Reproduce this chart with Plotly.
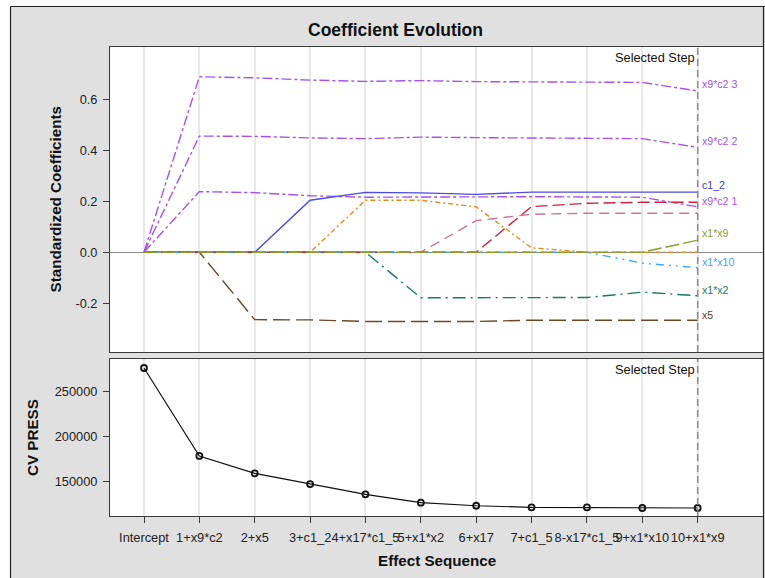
import plotly.graph_objects as go

# ---------------- data ----------------
steps = list(range(11))
step_labels = ["Intercept", "1+x9*c2", "2+x5", "3+c1_2", "4+x17*c1_5", "5+x1*x2",
               "6+x17", "7+c1_5", "8-x17*c1_5", "9+x1*x10", "10+x1*x9"]

coef_x9c2_3 = [0, 0.689, 0.685, 0.676, 0.671, 0.674, 0.670, 0.668, 0.668, 0.667, 0.633]
coef_x9c2_2 = [0, 0.456, 0.455, 0.449, 0.446, 0.452, 0.450, 0.448, 0.448, 0.446, 0.412]
coef_x9c2_1 = [0, 0.238, 0.234, 0.222, 0.216, 0.217, 0.218, 0.218, 0.217, 0.216, 0.178]
coef_x5 = [0, 0, -0.265, -0.266, -0.272, -0.273, -0.272, -0.267, -0.267, -0.267, -0.267]
coef_c1_2 = [0, 0, 0, 0.204, 0.235, 0.233, 0.227, 0.236, 0.236, 0.236, 0.236]
coef_x17c1_5 = [0, 0, 0, 0, 0.204, 0.204, 0.178, 0.017, 0, 0, 0]
coef_x1x2 = [0, 0, 0, 0, 0, -0.179, -0.178, -0.178, -0.178, -0.157, -0.171]
coef_x17 = [0, 0, 0, 0, 0, 0, 0.124, 0.149, 0.153, 0.153, 0.153]
coef_c1_5 = [0, 0, 0, 0, 0, 0, 0, 0.179, 0.192, 0.196, 0.196]
coef_x1x10 = [0, 0, 0, 0, 0, 0, 0, 0, 0, -0.043, -0.061]
coef_x1x9 = [0, 0, 0, 0, 0, 0, 0, 0, 0, 0, 0.047]

cv_press = [276300, 178600, 159300, 147400, 136000, 126700, 123300, 121500, 121500, 120800, 120800]

coef_ticks = [-0.2, 0.0, 0.2, 0.4, 0.6]
coef_ticktext = ["-0.2", "0.0", "0.2", "0.4", "0.6"]
press_ticks = [150000, 200000, 250000]
press_ticktext = ["150000", "200000", "250000"]

selected_step = 10

# curve end labels (text, label y-value)
end_labels = ["x9*c2 3", "x9*c2 2", "c1_2", "x9*c2 1", "x1*x9", "x1*x10", "x1*x2", "x5"]
end_label_y = [0.659, 0.438, 0.264, 0.202, 0.077, -0.037, -0.148, -0.245]

# ---------------- styling ----------------
FONT = "Liberation Sans, Arial, sans-serif"
W, H = 765, 578
L, R, T, B = 110, 2, 47, 62
PW, PH = W - L - R, H - T - B


def pxx(x):
    return (x - L) / PW


def pyy(y):
    return (H - B - y) / PH


PURPLE = "#A652E8"
series = [
    (coef_x9c2_3, PURPLE, "10px,3px,3px,3px"),
    (coef_x9c2_2, PURPLE, "10px,3px,3px,3px"),
    (coef_x9c2_1, PURPLE, "10px,3px,3px,3px"),
    (coef_x5, "#6B4726", "17px,6px"),
    (coef_c1_2, "#4B4BE6", "solid"),
    (coef_x17c1_5, "#E08C1A", "5px,3px,2px,3px"),
    (coef_x1x2, "#18786A", "13px,5px,2px,5px"),
    (coef_x17, "#C87898", "10px,6px"),
    (coef_c1_5, "#CC2244", "12px,5px"),
    (coef_x1x10, "#3FA2F5", "8px,5px,2px,5px,2px,5px"),
    (coef_x1x9, "#8C9B2C", "14px,4px"),
]
label_colors = [PURPLE, PURPLE, "#3A3AD6", PURPLE, "#8C9B2C", "#3FA2F5", "#18786A", "#5E3C1E"]

fig = go.Figure()
for vals, col, dash in series:
    fig.add_trace(go.Scatter(x=steps, y=vals, xaxis="x2", yaxis="y2", mode="lines",
                             line=dict(color=col, width=1.4, dash=dash),
                             hoverinfo="skip", showlegend=False))

fig.add_trace(go.Scatter(x=steps, y=cv_press, xaxis="x", yaxis="y", mode="lines+markers",
                         line=dict(color="#111111", width=1.2),
                         marker=dict(symbol="circle-open", size=6, color="#111111",
                                     line=dict(width=1.8, color="#111111")),
                         hoverinfo="skip", showlegend=False))

FRAME = "#3a3a3a"
GRID = "#E8E8E8"
xr = [-0.614, 11.18]
tickfont = dict(family=FONT, size=12.8, color="#222222")

fig.update_layout(
    width=W, height=H,
    margin=dict(l=L, r=R, t=T, b=B, pad=0),
    paper_bgcolor="#E0E0E0",
    plot_bgcolor="white",
    showlegend=False,
    font=dict(family=FONT, color="#222222"),
    xaxis=dict(domain=[0, 1], anchor="y", range=xr, tickmode="array", tickvals=steps,
               ticktext=step_labels, tickangle=0, ticks="outside", ticklen=6, tickcolor=FRAME,
               showline=True, mirror=True, linecolor=FRAME, linewidth=1, showgrid=True,
               gridcolor=GRID, gridwidth=1.5, zeroline=False, tickfont=tickfont,
               ticklabelstandoff=4),
    yaxis=dict(domain=[0, pyy(359)], anchor="x", range=[111900, 286300], tickmode="array",
               tickvals=press_ticks, ticktext=press_ticktext, ticks="outside", ticklen=6,
               tickcolor=FRAME, showline=True, mirror=True, linecolor=FRAME, linewidth=1,
               showgrid=False, zeroline=False, tickfont=tickfont, ticklabelstandoff=3),
    xaxis2=dict(domain=[0, 1], anchor="y2", matches="x", range=xr, tickmode="array",
                tickvals=steps, showticklabels=False, ticks="", showline=True, mirror=True,
                linecolor=FRAME, linewidth=1, showgrid=True, gridcolor=GRID, gridwidth=1.5,
                zeroline=False),
    yaxis2=dict(domain=[pyy(352), 1], anchor="x2", range=[-0.392, 0.806], tickmode="array",
                tickvals=coef_ticks, ticktext=coef_ticktext, ticks="outside", ticklen=6,
                tickcolor=FRAME, showline=True, mirror=True, linecolor=FRAME, linewidth=1,
                showgrid=False, zeroline=True, zerolinecolor="#8a8a8a", zerolinewidth=1.3,
                tickfont=tickfont, ticklabelstandoff=3),
)

shapes = [
    # white margins outside the gray frame
    dict(type="rect", xref="paper", yref="paper", x0=pxx(-5), x1=pxx(10), y0=pyy(600),
         y1=pyy(-5), fillcolor="white", line=dict(width=0), layer="below"),
    dict(type="rect", xref="paper", yref="paper", x0=pxx(-5), x1=pxx(800), y0=pyy(6),
         y1=pyy(-5), fillcolor="white", line=dict(width=0), layer="below"),
    # outer frame lines
    dict(type="line", xref="paper", yref="paper", x0=pxx(10.5), x1=pxx(10.5), y0=pyy(6.5),
         y1=pyy(600), line=dict(color="#222222", width=1.2)),
    dict(type="line", xref="paper", yref="paper", x0=pxx(10.5), x1=pxx(770), y0=pyy(6.5),
         y1=pyy(6.5), line=dict(color="#222222", width=1.2)),
    dict(type="line", xref="paper", yref="paper", x0=pxx(763.5), x1=pxx(763.5), y0=pyy(6.5),
         y1=pyy(600), line=dict(color="#222222", width=1.2)),
    # selected step lines
    dict(type="line", xref="x2", yref="y2 domain", x0=selected_step, x1=selected_step, y0=0,
         y1=1, line=dict(color="#8a8a8a", width=1.5, dash="7px,4px")),
    dict(type="line", xref="x", yref="y domain", x0=selected_step, x1=selected_step, y0=0,
         y1=1, line=dict(color="#8a8a8a", width=1.5, dash="7px,4px")),
]
fig.update_layout(shapes=shapes)

ann = [
    dict(text="<b>Coefficient Evolution</b>", xref="paper", yref="paper", x=pxx(395),
         y=pyy(30), xanchor="center", yanchor="middle", showarrow=False,
         font=dict(family=FONT, size=17.5, color="#111111")),
    dict(text="<b>Standardized Coefficients</b>", xref="paper", yref="paper", x=pxx(55),
         y=pyy(199.5), xanchor="center", yanchor="middle", textangle=-90, showarrow=False,
         font=dict(family=FONT, size=15.2, color="#111111")),
    dict(text="<b>CV PRESS</b>", xref="paper", yref="paper", x=pxx(32.5),
         y=pyy(437.5), xanchor="center", yanchor="middle", textangle=-90, showarrow=False,
         font=dict(family=FONT, size=15.2, color="#111111")),
    dict(text="<b>Effect Sequence</b>", xref="paper", yref="paper", x=pxx(437),
         y=pyy(560), xanchor="center", yanchor="middle", showarrow=False,
         font=dict(family=FONT, size=15.2, color="#111111")),
    dict(text="Selected Step", xref="x2", yref="y2 domain", x=selected_step, y=1,
         xanchor="right", yanchor="top", xshift=-1, yshift=-1, showarrow=False,
         font=dict(family=FONT, size=12.8, color="#111111")),
    dict(text="Selected Step", xref="x", yref="y domain", x=selected_step, y=1,
         xanchor="right", yanchor="top", xshift=-1, yshift=-1, showarrow=False,
         font=dict(family=FONT, size=12.8, color="#111111")),
]
for txt, yv, col in zip(end_labels, end_label_y, label_colors):
    ann.append(dict(text=txt, xref="x2", yref="y2", x=selected_step, y=yv, xanchor="left",
                    yanchor="middle", xshift=2, showarrow=False,
                    font=dict(family=FONT, size=10.6, color=col)))
fig.update_layout(annotations=ann)

fig.write_html("out.html", config={"displayModeBar": False},
               post_script="document.body.style.margin='0';document.body.style.overflow='hidden';")
